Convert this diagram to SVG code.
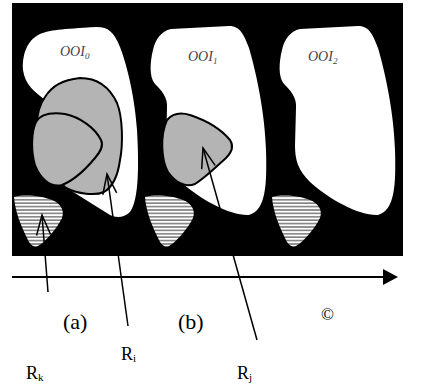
<svg xmlns="http://www.w3.org/2000/svg" width="423" height="386" viewBox="0 0 423 386">
<style>
.ooi{fill:#fff;stroke:none}
.reg{fill:#b4b4b4;stroke:#000;stroke-width:2;stroke-linejoin:round}
.str{fill:url(#stripes);stroke:none}
.lbl{font-family:"Liberation Serif","Times New Roman",serif;font-style:italic;font-size:14px;fill:#444}
.txt{font-family:"Liberation Serif","Times New Roman",serif;fill:#000}
.ptr{fill:none;stroke:#000;stroke-width:1.5}
</style>
<defs>
<pattern id="stripes" width="6" height="3.4" patternUnits="userSpaceOnUse">
<rect width="6" height="3.4" fill="#fff"/>
<rect y="1.8" width="6" height="1.6" fill="#808080"/>
</pattern>
<marker id="openv" markerUnits="userSpaceOnUse" markerWidth="24" markerHeight="18" viewBox="-22 -9 24 18" refX="0" refY="0" orient="auto" overflow="visible">
<path d="M-20,-7 L0,0 L-20,7" fill="none" stroke="#000" stroke-width="1.5"/>
</marker>
</defs>
<rect id="background" x="12" y="3" width="391" height="253" fill="#000"/>
<g id="ooi0">
<path class="ooi" d="M23,70 C22,55 27,40 40,34 C50,30 60,29 97,27 C108,27 114,32 120,47 C128,68 135,100 137,130 C139,165 139,200 130,212 C124,218 116,218 110,215 L70,190 L45,100 C35,92 25,85 23,70 Z"/>
<text class="lbl" x="60" y="56">OOI<tspan font-size="9" dy="3">0</tspan></text>
</g>
<g id="ooi1">
<path class="ooi" d="M153,50 C155,40 161,31 171,29 L229,26 C239,26 243,32 249,48 C257,75 265,115 266,150 C267,185 266,210 249,215 C231,216 201,200 181,182 C169,170 166,160 166,145 L167,108 C168,97 161,90 155,84 C149,77 150,62 153,50 Z"/>
<text class="lbl" x="188" y="61">OOI<tspan font-size="9" dy="3">1</tspan></text>
</g>
<g id="ooi2">
<path class="ooi" d="M282,50 C284,40 290,31 300,29 L358,26 C368,26 372,32 378,48 C386,75 394,115 395,150 C396,185 395,210 378,215 C360,216 330,200 310,182 C298,170 295,160 295,145 L296,108 C297,97 290,90 284,84 C278,77 279,62 282,50 Z"/>
<text class="lbl" x="308" y="61">OOI<tspan font-size="9" dy="3">2</tspan></text>
</g>
<g id="ri">
<path class="reg" d="M45,97 C52,86 62,80 80,78 C98,78 110,88 117,103 C123,118 123,145 120,160 C118,175 114,186 104,192 C95,196 78,194 66,188 C50,175 38,150 37,125 C37,112 40,104 45,97 Z"/>
<path class="reg" d="M36,122 C40,115 50,112 65,114 C80,117 95,128 101,140 C104,146 100,152 95,158 C85,170 75,180 62,185 C50,188 40,178 35,165 C31,152 31,132 36,122 Z"/>
</g>
<g id="rj">
<path class="reg" d="M167,120 C172,114 180,112 190,115 C205,120 220,128 230,140 C234,146 232,152 226,158 C215,168 205,178 195,184 C185,188 175,182 168,172 C161,160 160,135 167,120 Z"/>
</g>
<g id="rk0">
<path class="str" d="M14,197 C25,194 42,196 52,200 C60,203 65,210 62,218 C56,230 45,242 38,246 C34,248 30,245 27,238 C22,228 15,212 14,197 Z"/>
</g>
<g id="rk1">
<path class="str" transform="translate(131,0)" d="M14,197 C25,194 42,196 52,200 C60,203 65,210 62,218 C56,230 45,242 38,246 C34,248 30,245 27,238 C22,228 15,212 14,197 Z"/>
</g>
<g id="rk2">
<path class="str" transform="translate(258,0)" d="M14,197 C25,194 42,196 52,200 C60,203 65,210 62,218 C56,230 45,242 38,246 C34,248 30,245 27,238 C22,228 15,212 14,197 Z"/>
</g>
<g id="timeline">
<line x1="12" y1="277" x2="385" y2="277" stroke="#000" stroke-width="2"/>
<polygon points="383,269 398,277 383,285" fill="#000"/>
</g>
<g id="connectors">
<line class="ptr" x1="48" y1="292" x2="42" y2="215" marker-end="url(#openv)"/>
<line class="ptr" x1="128" y1="326" x2="107" y2="174" marker-end="url(#openv)"/>
<line class="ptr" x1="257" y1="340" x2="203" y2="148" marker-end="url(#openv)"/>
</g>
<g id="labels">
<text class="txt" x="63" y="329" font-size="22">(a)</text>
<text class="txt" x="178" y="329" font-size="22">(b)</text>
<text class="txt" x="321" y="320" font-size="17">©</text>
<text class="txt" x="121" y="360" font-size="18">R<tspan font-size="11" dy="2">i</tspan></text>
<text class="txt" x="26" y="379" font-size="18">R<tspan font-size="11" dy="2">k</tspan></text>
<text class="txt" x="237" y="379" font-size="18">R<tspan font-size="11" dy="2">j</tspan></text>
</g>
</svg>
